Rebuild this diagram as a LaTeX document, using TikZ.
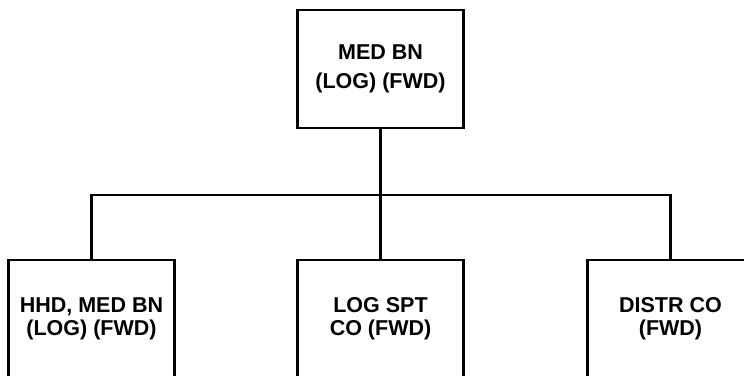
\documentclass[tikz,border=0pt]{standalone}
\usepackage{fontspec}
\setmainfont{Liberation Sans}
\begin{document}
\begin{tikzpicture}[x=1pt,y=1pt,
  orgbox/.style={draw=black, line width=2.6pt, minimum width=166pt, minimum height=118pt,
    inner sep=0pt, align=center, font=\bfseries\fontsize{21.5}{23}\selectfont},
  topbox/.style={orgbox, font=\bfseries\fontsize{21.5}{28.5}\selectfont},
  link/.style={draw=black, line width=2.4pt}]
\useasboundingbox (0,0) rectangle (744,-375);
\clip (0,0) rectangle (744,-375);
\node[topbox] (top) at (380.5,-69) {MED BN\\(LOG) (FWD)};
\node[orgbox] (hhd) at (91.5,-319) {HHD, MED BN\\(LOG) (FWD)};
\node[orgbox] (log) at (380.5,-319) {LOG SPT\\CO (FWD)};
\node[orgbox] (dis) at (670.5,-319) {DISTR CO\\(FWD)};
\coordinate (bus) at (380.5,-195);
\draw[link] (top.south) -- (log.north);
\draw[link] (hhd.north) |- (bus) -| (dis.north);
\end{tikzpicture}
\end{document}
